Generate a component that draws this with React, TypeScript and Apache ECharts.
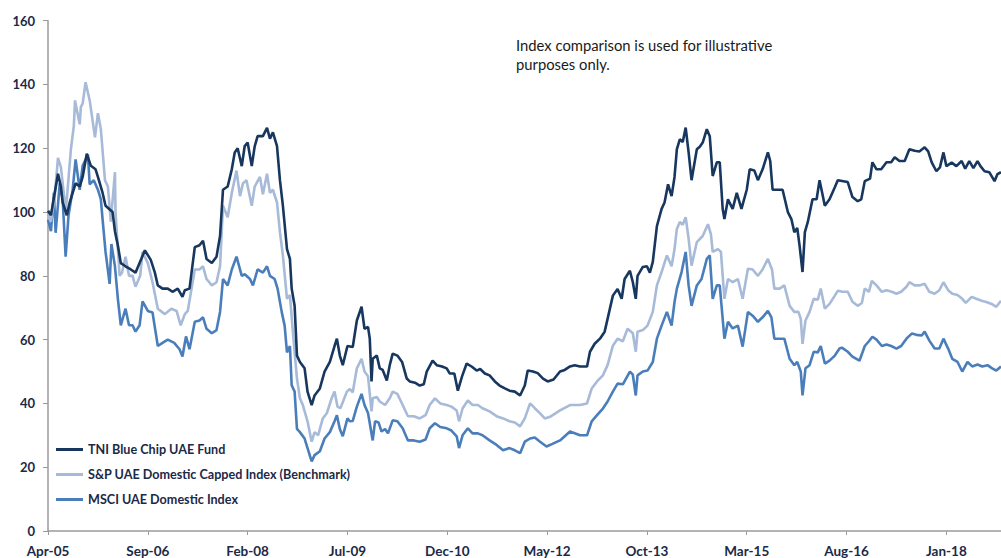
import React, { useEffect, useRef } from "react";
import * as echarts from "echarts";

// x = months since Apr-2005, y = indexed value (start = 100)
const tniFund: [number, number][] = [
  [0,100.4],[0.5,99],[1.7,112],[2.2,108],[2.5,103],[3.2,99],[3.7,103],[4.2,106],[4.7,109],[5.4,108],[5.9,111],[6.6,118.3],[7.3,114.5],[8.1,113.4],[8.5,111],[9.3,106],[9.8,102],[11.0,100],[11.4,94],[11.9,89.5],[12.4,84],[13.2,83],[14.1,82],[14.9,81],[16.5,88],[17.5,85],[18.2,81],[18.7,77],[19.5,76],[20.4,76],[21.2,75],[22.1,76],[22.9,73.4],[23.3,75.5],[24.1,76],[25.0,89],[25.8,89.6],[26.4,91],[27.0,85.3],[27.9,84],[28.7,86],[29.3,92.5],[29.8,107],[30.6,108],[31.3,113.4],[31.8,118.7],[32.3,120],[33.0,114.4],[33.5,120.7],[34.0,121.8],[34.7,114.4],[35.2,120.6],[35.7,123.8],[36.6,123.8],[37.3,126.4],[37.8,123],[38.3,125],[39.0,120.7],[39.5,110],[40.0,102],[40.7,88.4],[41.2,85.3],[41.5,76],[42.0,70.6],[42.4,55],[42.9,53],[43.7,51],[44.2,43.7],[44.9,39.5],[45.4,42.5],[46.3,44.7],[47.1,50],[48.0,53],[48.8,58],[49.2,60.3],[49.7,55],[50.2,52],[51.0,58],[51.9,57.7],[52.6,66],[53.4,70.3],[53.9,63.4],[54.5,64],[54.8,60.3],[55.1,46.9],[55.3,54],[56.0,55],[56.5,51],[57.0,50.5],[57.7,47.2],[58.2,52],[58.7,55.6],[59.5,55],[60.3,53],[61.1,47.8],[61.6,46.9],[62.5,46.5],[63.3,45.6],[64.0,46],[64.5,50],[65.5,53.4],[66.2,52],[67.1,51.6],[67.9,51],[68.4,49.4],[69.2,49.4],[69.8,44],[70.5,48.4],[71.3,52.5],[72.2,51.5],[73.0,50.3],[73.6,50.8],[74.4,49.4],[75.2,48.8],[76.1,46.9],[76.9,45.6],[77.8,44.7],[78.6,44],[79.5,43.7],[80.4,42.5],[81.2,45.6],[81.7,50.3],[82.6,50],[83.4,49.5],[84.3,47.8],[85.1,46.9],[86.1,47.5],[87.2,50],[88.0,50.5],[88.9,51.6],[89.7,52],[90.6,51.6],[91.8,51.6],[92.3,56.2],[93.1,58.7],[94.0,60.3],[94.8,62.5],[95.3,66.5],[96.2,73.8],[97.0,75.9],[97.7,72.8],[98.2,79],[99.1,81.6],[99.6,78],[100.1,72.8],[100.4,80],[101.3,82.8],[102.0,83],[102.5,81],[103.0,84.4],[103.7,95.6],[104.5,101],[105.0,103],[105.6,108.7],[106.2,105],[106.7,111],[107.1,119.7],[107.6,122.8],[108.1,122],[108.6,126.5],[109.1,118.7],[109.6,110],[110.5,119.7],[111.0,120.5],[111.5,121.8],[112.2,126],[112.7,123.8],[113.2,111.3],[113.9,115.6],[114.4,115.6],[114.9,101],[115.2,97.8],[115.8,104],[116.6,101],[117.3,106],[118.1,101],[119.0,107],[119.5,113.4],[120.3,113],[120.9,110],[121.7,113.4],[122.6,118.7],[123.0,116],[123.4,107],[124.3,107],[125.1,107],[126.0,100],[126.6,97.8],[127.1,93.7],[127.6,95],[128.0,89.4],[128.5,81.2],[128.9,93.7],[129.4,96.9],[130.2,104],[130.9,104],[131.4,110],[132.3,102],[133.1,104],[134.0,107.8],[134.5,110],[136.2,109.4],[137.0,104.7],[137.9,103.4],[138.5,104],[139.1,109.7],[140.0,110.5],[140.4,115.6],[141.1,113.4],[141.9,113.4],[142.8,115.6],[143.6,115.6],[144.2,117.2],[145.0,116],[145.9,116],[146.7,119.7],[147.6,119.2],[148.4,119],[149.3,120.3],[149.9,119],[150.5,115.6],[151.3,112.8],[151.9,114],[152.5,118.7],[153.0,114.4],[153.9,115.5],[154.7,114.4],[155.6,116],[156.2,113.6],[156.9,116],[157.6,113.8],[158.3,116],[158.8,114.4],[159.5,112.8],[160.3,112.5],[161.2,109.7],[161.7,111.9],[162.3,112.5]
];

const spBenchmark: [number, number][] = [
  [0,99],[0.5,97],[1.1,104],[1.7,117],[2.2,114],[2.8,104],[3.0,99],[3.2,104],[3.9,119.7],[4.4,127],[4.6,135],[5.4,127.5],[5.6,133],[5.9,134],[6.4,140.7],[7.1,135],[8.0,123.4],[8.5,131],[9.0,126],[9.7,110],[10.2,108],[10.7,97],[11.4,112.5],[11.5,100],[12.2,80],[12.6,81],[13.2,86],[13.8,80],[14.4,80],[14.9,76.6],[15.7,80],[16.1,87.5],[17.0,84],[17.8,78],[18.7,69.7],[19.9,68],[21.0,69.7],[21.9,69],[22.6,64.5],[23.3,68],[23.8,69],[25.0,82],[25.8,82],[26.4,83],[27.0,79],[27.9,77],[28.7,78],[29.3,83],[29.8,102],[30.6,98.4],[31.3,106],[32.1,113],[32.7,105],[33.2,109],[33.8,110],[34.7,102],[35.2,108],[36.1,111],[36.6,105.6],[37.3,112],[37.8,106],[38.3,107],[39.0,103],[39.5,93.7],[40.0,86.4],[40.7,72.8],[41.2,74],[41.7,62.5],[42.4,47.8],[42.9,41.6],[43.4,39.5],[44.2,34.4],[44.9,28],[45.4,31],[46.0,30],[46.8,35.3],[47.5,37],[48.3,41.6],[48.8,43.7],[49.3,39],[49.8,38.5],[50.9,43.7],[51.4,44.5],[51.9,43.5],[52.6,51],[53.4,54],[53.9,50],[54.5,48.5],[55.1,37.5],[55.3,41.6],[56.0,42],[56.5,40.6],[57.4,39.5],[58.2,41.6],[58.7,43.7],[59.5,43],[60.4,39.5],[61.3,36],[62.3,36],[63.3,35.3],[64.3,36.3],[65.0,39.5],[65.9,41.6],[66.8,40],[67.9,39.5],[68.7,39],[69.6,37.8],[70.0,34.4],[70.6,38.4],[71.5,40.9],[72.3,39.5],[73.2,39.5],[74.0,38.5],[75.2,37.5],[76.4,36],[77.5,35.3],[78.6,34.4],[79.5,34],[80.4,32.8],[81.2,35.3],[82.1,40],[82.9,38.5],[83.8,36.9],[84.6,35.3],[85.5,35.8],[87.2,37.8],[88.9,39.5],[90.6,39.5],[91.8,40],[92.6,44.7],[93.5,46.9],[94.5,48.8],[95.3,52],[96.2,58.1],[97.0,60.3],[97.9,59.5],[98.7,63.4],[99.6,62],[100.1,56.2],[100.4,62.5],[101.3,63],[102.1,64.4],[103.0,68.7],[103.7,77],[104.5,81.2],[105.4,86.4],[106.2,83],[106.7,88.4],[107.1,94.7],[107.6,96.9],[108.1,96],[108.6,98.4],[109.1,91.6],[109.6,83.2],[110.5,90.6],[111.5,92.5],[112.4,96.2],[112.9,93],[113.2,87.5],[114.1,88.4],[114.6,87.5],[115.2,72.8],[115.8,79],[116.6,78],[117.5,79],[118.3,72.8],[119.2,82.2],[120.0,82],[120.9,80],[121.7,82],[122.6,85.3],[123.3,82],[123.7,76],[124.6,76],[125.4,77],[126.3,70.6],[127.1,68.7],[127.8,68.7],[128.2,66.5],[128.5,58.7],[129.0,66],[129.7,68.7],[130.4,72.8],[131.1,72.5],[131.6,76],[132.3,69.7],[133.1,71.2],[134.0,73.8],[134.5,75.3],[135.3,75],[136.2,75],[137.0,71.9],[137.9,70.6],[138.6,71.5],[139.1,76],[139.8,75],[140.3,78.4],[141.1,77],[142.0,75],[142.8,75.5],[143.7,75],[144.5,74.4],[145.3,75],[146.2,76.6],[146.7,78],[147.6,77],[148.4,77],[149.3,77.5],[150.1,75],[151.0,74.4],[151.8,75.5],[152.5,78],[153.3,75.5],[154.0,74.4],[154.9,74],[155.7,72.8],[156.3,71.5],[157.3,73.4],[158.1,72.8],[159.0,72.2],[159.8,71.8],[160.7,71.2],[161.5,70.3],[162.3,72.2]
];

const msciIndex: [number, number][] = [
  [0,97.6],[0.5,94],[1.0,106],[1.3,93.5],[2.0,109],[2.5,104],[3.0,86],[3.5,99],[4.2,107],[4.7,116.5],[5.4,107],[5.9,114.5],[6.8,118],[7.1,108.7],[7.8,110],[8.5,107],[9.0,104],[9.3,97.6],[9.8,87.5],[10.5,77.5],[10.8,90],[11.4,83],[11.9,72.8],[12.4,64.5],[13.2,69.7],[13.8,64.5],[14.4,64.5],[14.9,62.5],[15.6,64.5],[16.1,72],[17.0,69],[17.8,68.5],[18.7,58],[19.5,59],[20.4,60],[21.5,59],[22.4,57],[22.9,54.7],[23.5,61],[24.1,57],[25.0,65.6],[25.8,66],[26.4,67],[27.0,63.4],[27.9,62],[28.7,63],[29.3,68.7],[29.8,79],[30.6,77],[31.3,82],[32.1,86],[33.0,80],[33.5,80.5],[34.4,79],[34.9,77],[35.7,82],[36.6,81],[37.3,83],[37.8,80],[38.6,79],[39.1,76],[39.8,68.7],[40.3,64.4],[40.7,56],[41.2,58],[41.5,45.7],[42.0,43.7],[42.4,32],[42.9,31],[43.7,29],[44.2,26],[44.9,21.8],[45.4,23.8],[46.3,25],[47.1,29],[48.0,31],[48.8,34.4],[49.2,36.3],[49.7,32],[50.2,29.7],[51.0,35.3],[51.4,34.4],[51.9,34.5],[52.6,39],[53.4,43],[53.9,39.5],[54.5,37],[55.3,28.4],[55.7,34.4],[56.3,34],[56.8,31.2],[57.4,32],[57.9,30.6],[58.7,34.7],[59.5,34.4],[60.4,32.2],[61.3,28.4],[62.3,28.4],[63.3,28],[64.3,28.7],[65.0,32.2],[65.9,33.8],[66.8,32.6],[67.9,32.2],[68.7,31.5],[69.6,29.7],[70.0,26],[70.6,30],[71.5,32.2],[72.3,30.6],[73.2,30.6],[74.0,30],[75.2,28.4],[76.4,27],[77.5,25.3],[78.6,26],[79.5,25.3],[80.4,24.4],[81.2,28],[82.1,29],[82.9,29.3],[83.8,28],[84.9,26.5],[85.9,27.3],[87.2,28.4],[88.9,31.2],[90.6,30],[91.8,30],[92.6,34.4],[93.5,36.3],[94.5,38.4],[95.3,40.6],[96.2,43.7],[97.0,46.2],[97.9,46],[99.1,50],[99.6,49],[100.1,42.5],[100.4,48.8],[101.3,50],[102.1,50.3],[103.0,53],[103.7,60.3],[104.5,64.4],[105.4,68.7],[106.2,64.4],[106.7,71.8],[107.1,76],[107.9,81.2],[108.6,87.5],[109.1,77],[109.6,70.6],[110.5,77],[111.3,79],[112.2,85.3],[112.7,86.4],[113.2,72.8],[113.9,77],[114.4,77],[115.2,60.3],[115.8,65.6],[116.6,63.5],[117.5,64.4],[118.3,57.8],[119.2,68.7],[120.0,67.5],[120.9,65.6],[121.7,67],[122.6,69],[123.2,67],[123.7,60.3],[124.6,60.3],[125.4,60.3],[126.3,54],[127.1,52],[127.6,53],[128.2,50],[128.5,42.5],[129.0,51],[129.7,52],[130.4,56.2],[131.1,56],[131.6,58],[132.3,52.5],[133.1,53.4],[134.0,55],[134.8,57.2],[135.2,57.5],[136.2,56.2],[137.0,54.7],[138.2,53.4],[139.1,58],[139.8,59.5],[140.4,60.9],[141.1,60],[142.0,58],[142.8,58.5],[143.6,58],[144.5,57.2],[145.3,58],[146.2,60.3],[147.1,61.9],[147.9,61.5],[148.8,61.3],[149.3,62.5],[150.1,59.7],[151.0,57.2],[151.8,57.2],[152.5,60.3],[153.3,57.2],[154.0,54],[154.9,53],[155.7,50],[156.6,53],[157.4,51.6],[158.3,52.2],[159.1,51.6],[160.0,52],[160.8,51],[161.5,50.3],[162.3,51.6]
];

const seriesNames = [
  "TNI Blue Chip UAE Fund",
  "S&P UAE Domestic Capped Index (Benchmark)",
  "MSCI UAE Domestic Index",
];
const monthNames = ["Jan","Feb","Mar","Apr","May","Jun","Jul","Aug","Sep","Oct","Nov","Dec"];
const startYear = 2005;
const startMonth = 3; // April
const tickEveryMonths = 17;
const xMaxMonths = 162.3;
const noteLines = ["Index comparison is used for illustrative", "purposes only."];

function monthLabel(m: number): string {
  const total = startMonth + Math.round(m);
  const y = startYear + Math.floor(total / 12);
  return monthNames[total % 12] + "-" + String(y % 100).padStart(2, "0");
}

export default function App() {
  const ref = useRef<HTMLDivElement>(null);
  useEffect(() => {
    if (!ref.current) return;
    const chart = echarts.init(ref.current, undefined, { renderer: "svg" });
    const textColor = "#1c2947";
    const axisColor = "#9a9a9a";
    const colors = ["#17375e", "#a7bad8", "#4a7ebb"];
    chart.setOption({
      animation: false,
      color: colors,
      grid: { left: 48, right: 0, top: 20.7, bottom: 25, containLabel: false },
      legend: {
        orient: "vertical",
        left: 51,
        top: 438,
        itemWidth: 27,
        itemHeight: 3,
        itemGap: 12,
        icon: "rect",
        data: seriesNames,
        textStyle: { color: textColor, fontFamily: "Lato", fontWeight: "bold", fontSize: 12.6 },
      },
      xAxis: {
        type: "value",
        min: 0,
        max: xMaxMonths,
        interval: tickEveryMonths,
        splitLine: { show: false },
        axisLine: { lineStyle: { color: axisColor, width: 1.5 } },
        axisTick: { show: true, length: 4, lineStyle: { color: axisColor } },
        axisLabel: {
          margin: 13,
          color: textColor,
          fontFamily: "Lato",
          fontWeight: "bold",
          fontSize: 13.5,
          showMaxLabel: false,
          formatter: (v: number) => monthLabel(v),
        },
      },
      yAxis: {
        type: "value",
        min: 0,
        max: 160,
        interval: 20,
        splitLine: { show: false },
        axisLine: { show: true, lineStyle: { color: axisColor, width: 1.5 } },
        axisTick: { show: true, length: 5, lineStyle: { color: axisColor } },
        axisLabel: {
          margin: 13,
          color: textColor,
          fontFamily: "Lato",
          fontWeight: "bold",
          fontSize: 13,
        },
      },
      graphic: [
        {
          type: "text",
          left: 516,
          top: 35,
          style: {
            text: noteLines.join("\n"),
            fill: "#1a1a1a",
            font: "14.8px Lato",
            lineHeight: 19,
          },
        },
      ],
      series: [
        { name: seriesNames[0], type: "line", data: tniFund },
        { name: seriesNames[1], type: "line", data: spBenchmark },
        { name: seriesNames[2], type: "line", data: msciIndex },
      ].map((s, i) => ({
        ...s,
        showSymbol: false,
        symbol: "none",
        z: 3 - i,
        lineStyle: { width: 2.6, color: colors[i] },
        itemStyle: { color: colors[i] },
      })),
    });
    return () => chart.dispose();
  }, []);
  return (
    <div
      ref={ref}
      style={{ position: "fixed", left: 0, top: 0, width: 1001, height: 558, background: "#fff" }}
    />
  );
}
